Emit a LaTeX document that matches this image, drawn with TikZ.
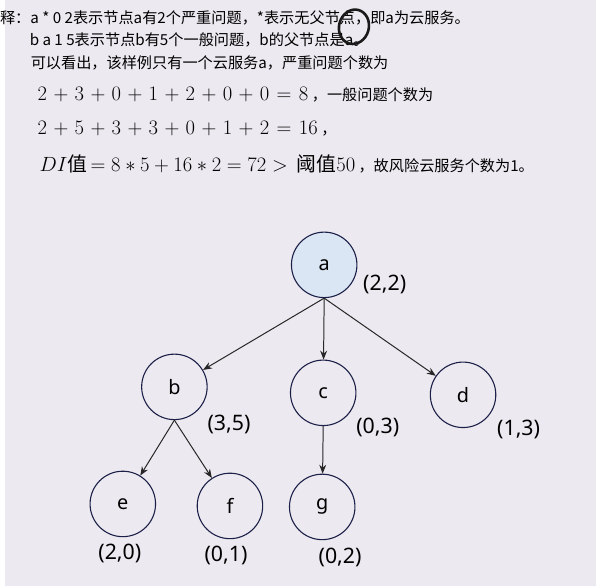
\documentclass[tikz,border=0pt]{standalone}
\usepackage[no-math]{fontspec}
\setmainfont{Noto Sans}
\newfontfamily\cjk{Noto Sans CJK SC}
\usetikzlibrary{arrows.meta}

\definecolor{paper}{RGB}{236,233,240}
\definecolor{rootfill}{RGB}{219,230,244}
\definecolor{ink}{RGB}{28,32,72}

\newcommand{\smallcjk}{\cjk\fontsize{15.3}{15.3}\selectfont}

\tikzset{
  treenode/.style={circle, draw=ink, line width=1.1pt, minimum size=66pt, inner sep=0pt,
    font=\fontsize{20}{20}\selectfont},
  pair/.style={inner sep=0pt, font=\fontsize{21.5}{21.5}\selectfont},
  edge/.style={-{Stealth[length=9pt,width=7pt]}, line width=1pt, black!85},
  txt/.style={anchor=west, inner sep=0pt, font=\smallcjk},
  mathtxt/.style={anchor=west, inner sep=0pt, font=\fontsize{20}{20}\selectfont},
  widemath/.style={mathtxt, execute at begin node={\medmuskip=5.6mu\thickmuskip=6.5mu}},
}

\begin{document}
\begin{tikzpicture}[x=1pt,y=-1pt]
  % screen background
  \fill[paper] (0,0) rectangle (596,591);

  % explanation text above the tree
  \node[txt] (t1) at (-5,18) {释：a * 0 2表示节点a有2个严重问题，*表示无父节点，即a为云服务。};
  \node[txt] (t2) at (25,40) {b a 1 5表示节点b有5个一般问题，b的父节点是a。};
  \node[txt] (t3) at (26,63) {可以看出，该样例只有一个云服务a，严重问题个数为};
  \node[widemath] (t4) at (33,95) {$2+3+0+1+2+0+0=8$\,{\smallcjk ，一般问题个数为}};
  \node[widemath] (t5) at (33,130) {$2+5+3+3+0+1+2=16$\,{\smallcjk ，}};
  \node[mathtxt] (t6) at (35,165) {$DI${\cjk 值}$\,=8*5+16*2=72>$\hspace{9pt}{\cjk 阈值}$50$\,{\smallcjk ，故风险云服务个数为1。}};

  % pen mark over the first line
  \draw[line width=2.6pt, black!90, rotate around={-15:(352,27)}] (352,27) ellipse (15 and 17.5);

  % tree
  \node[treenode, fill=rootfill] (a) at (322,267) {a};
  \node[treenode] (b) at (171,390) {b};
  \node[treenode] (c) at (321,396) {c};
  \node[treenode] (d) at (462,398) {d};
  \node[treenode] (e) at (119,508) {e};
  \node[treenode] (f) at (227,510) {f};
  \node[treenode] (g) at (320,511) {g};

  \draw[edge] (a.south) -- (b);
  \draw[edge] (a.south) -- (c);
  \draw[edge] (a.south) -- (d);
  \draw[edge] (b.south) -- (e);
  \draw[edge] (b.south) -- (f);
  \draw[edge] (c.south) -- (g);

  % (serious, general) counts
  \node[pair] (pa) at (383,287) {(2,2)};
  \node[pair] (pb) at (226,428) {(3,5)};
  \node[pair] (pc) at (376,431) {(0,3)};
  \node[pair] (pd) at (518,433) {(1,3)};
  \node[pair] (pe) at (116,558) {(2,0)};
  \node[pair] (pf) at (223,560) {(0,1)};
  \node[pair] (pg) at (338,562) {(0,2)};
\end{tikzpicture}
\end{document}
